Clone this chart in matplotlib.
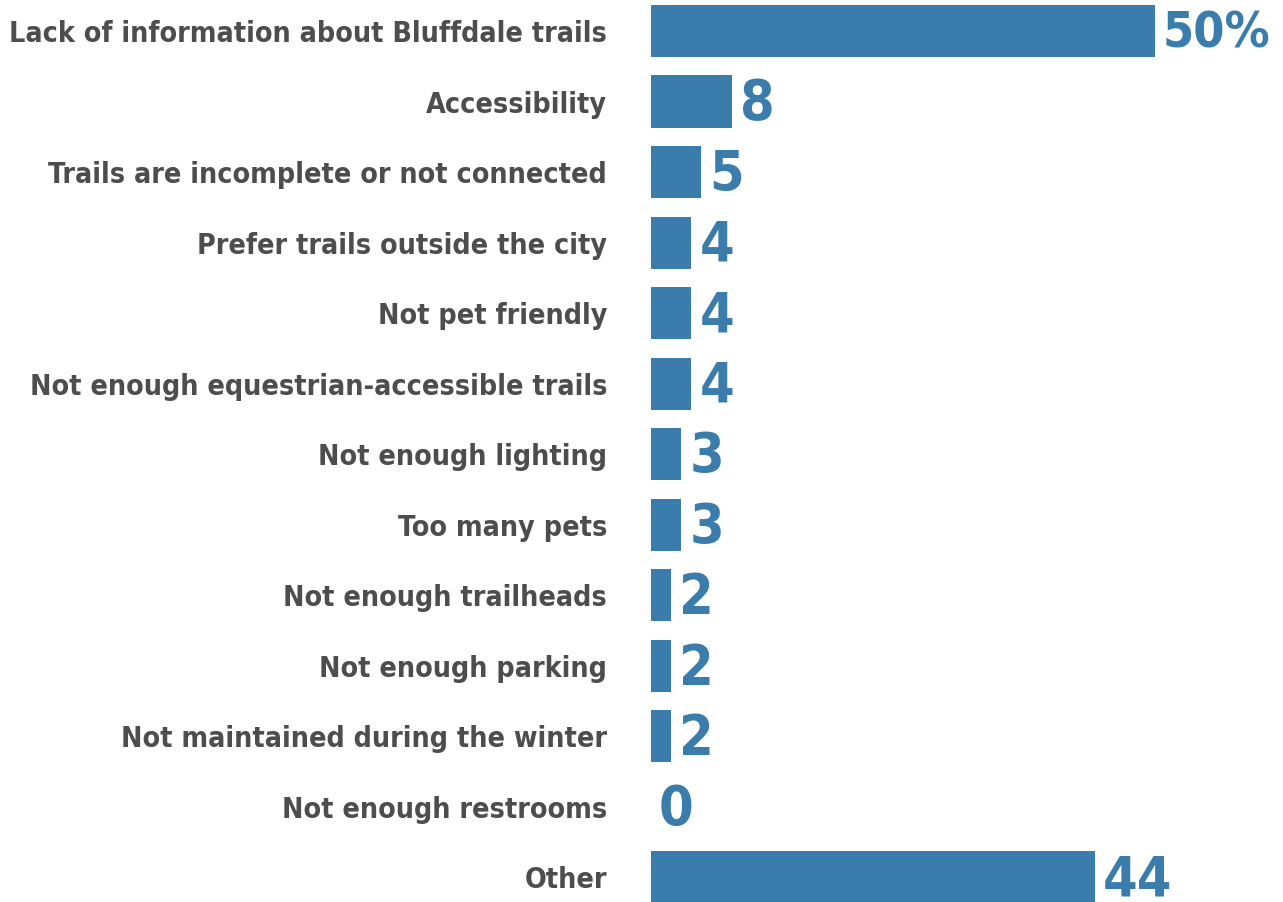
import matplotlib.pyplot as plt

categories = [
    "Lack of information about Bluffdale trails",
    "Accessibility",
    "Trails are incomplete or not connected",
    "Prefer trails outside the city",
    "Not pet friendly",
    "Not enough equestrian-accessible trails",
    "Not enough lighting",
    "Too many pets",
    "Not enough trailheads",
    "Not enough parking",
    "Not maintained during the winter",
    "Not enough restrooms",
    "Other",
]
values = [50, 8, 5, 4, 4, 4, 3, 3, 2, 2, 2, 0, 44]
value_labels = ["50%", "8", "5", "4", "4", "4", "3", "3", "2", "2", "2", "0", "44"]

BAR_COLOR = "#3a7cab"
TEXT_COLOR = "#4d4d4d"

fig = plt.figure(figsize=(12.83, 9.02), dpi=100)
ax = fig.add_axes([651 / 1283, 0, 1 - 651 / 1283, 1])

ypos = list(range(len(categories)))
ax.barh(ypos, values, height=0.74, color=BAR_COLOR)
ax.set_xlim(0, 62.7)
ax.set_ylim(12.35, -0.44)
ax.axis("off")

for y, v, lab, cat in zip(ypos, values, value_labels, categories):
    size = 36 if "%" in lab else 40
    # value labels sit just right of the bar end
    ax.annotate(lab, xy=(v, y), xytext=(8, 3), textcoords="offset pixels",
                ha="left", va="center_baseline", color=BAR_COLOR,
                fontsize=size, fontweight="bold", family="DejaVu Sans", fontstretch="condensed")
    ax.annotate(cat, xy=(0, y), xytext=(-44, 0), textcoords="offset pixels",
                ha="right", va="center_baseline", color=TEXT_COLOR,
                fontsize=20.5, fontweight="bold", family="DejaVu Sans", fontstretch="condensed")

fig.savefig("out.png", dpi=100)
